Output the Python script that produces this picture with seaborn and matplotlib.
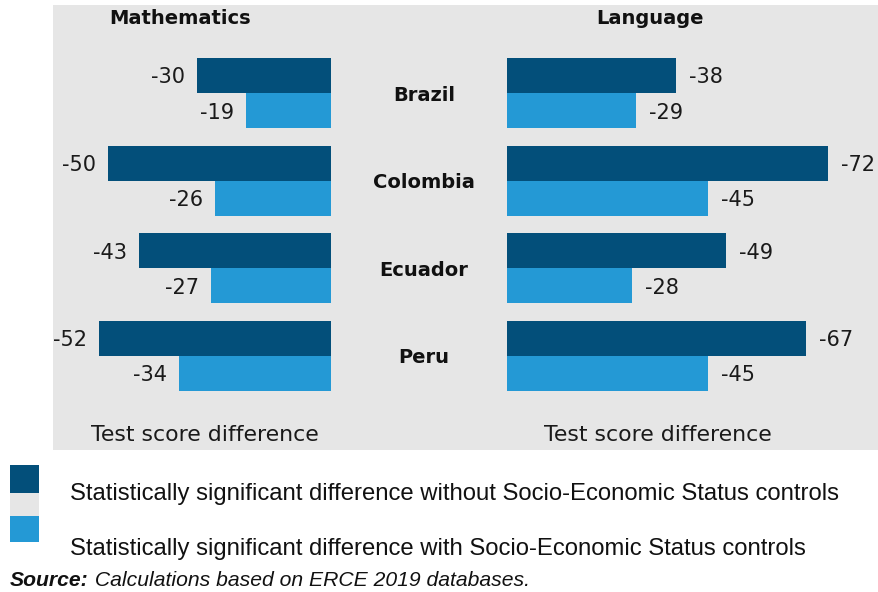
import matplotlib
matplotlib.use("Agg")
import matplotlib.pyplot as plt
import seaborn as sns
import pandas as pd
from matplotlib.patches import Rectangle

sns.set_theme(style="white")
plt.rcParams['font.family'] = ['DejaVu Sans']

countries = ["Brazil", "Colombia", "Ecuador", "Peru"]
series = ["Statistically significant difference without Socio-Economic Status controls",
          "Statistically significant difference with Socio-Economic Status controls"]
math_without = [-30, -50, -43, -52]
math_with = [-19, -26, -27, -34]
lang_without = [-38, -72, -49, -67]
lang_with = [-29, -45, -28, -45]
panel_titles = ["Mathematics", "Language"]
axis_label = "Test score difference"
source_bold = "Source:"
source_text = " Calculations based on ERCE 2019 databases."

DARK = "#034f7a"
LIGHT = "#2499d5"
GRAY = "#e6e6e6"

def long_df(without, withc):
    return pd.DataFrame({
        "country": countries * 2,
        "series": [series[0]] * 4 + [series[1]] * 4,
        "value": without + withc,
    })

W, H = 879, 592
fig = plt.figure(figsize=(W / 100, H / 100), dpi=100)

def fx(px):
    return px / W

def fy(py):
    return 1 - py / H

top_px, bot_px = 5, 450
fig.patches.append(Rectangle((fx(53), fy(bot_px)), fx(879) - fx(53), fy(top_px) - fy(bot_px),
                             transform=fig.transFigure, facecolor=GRAY, edgecolor="none", zorder=-5))

scale = 4.46  # px per unit
center0 = 93
step = 87.6
ylim = ((bot_px - center0) / step, -(center0 - top_px) / step)

axL = fig.add_axes([fx(53), fy(bot_px), fx(331) - fx(53), fy(top_px) - fy(bot_px)])
axR = fig.add_axes([fx(507), fy(bot_px), fx(879) - fx(507), fy(top_px) - fy(bot_px)])

pal = {series[0]: DARK, series[1]: LIGHT}
for ax, (wo, wi) in [(axL, (math_without, math_with)), (axR, (lang_without, lang_with))]:
    df = long_df(wo, wi)
    sns.barplot(data=df, x="value", y="country", hue="series", hue_order=series,
                order=countries, palette=pal, orient="h", ax=ax, width=0.8,
                legend=False, saturation=1, edgecolor="none")
    ax.set_facecolor("none")
    ax.patch.set_visible(False)
    for s in ax.spines.values():
        s.set_visible(False)
    ax.set_xticks([])
    ax.set_yticks([])
    ax.set_xlabel("")
    ax.set_ylabel("")
    ax.set_ylim(*ylim)

axL.set_xlim(-(331 - 53) / scale, 0)
axR.set_xlim(0, -(879 - 507) / scale)

VAL_FS = 15
for ax, side in [(axL, "left"), (axR, "right")]:
    for cont in ax.containers:
        for bar in cont:
            v = bar.get_width()
            yc = bar.get_y() + bar.get_height() / 2
            if side == "left":
                ax.annotate(f"{v:.0f}", (v, yc), xytext=(-12, -2), textcoords="offset pixels",
                            ha="right", va="center", fontsize=VAL_FS, color="#1a1a1a")
            else:
                ax.annotate(f"{v:.0f}", (v, yc), xytext=(13, -2), textcoords="offset pixels",
                            ha="left", va="center", fontsize=VAL_FS, color="#1a1a1a")

fig.text(fx(180), fy(18), panel_titles[0], ha="center", va="center", fontsize=14, fontweight="bold", color="#111111")
fig.text(fx(650), fy(18), panel_titles[1], ha="center", va="center", fontsize=14, fontweight="bold", color="#111111")

for i, c in enumerate(countries):
    fig.text(fx(424), fy(center0 + 2 + i * step), c, ha="center", va="center",
             fontsize=14, fontweight="bold", color="#111111")

fig.text(fx(205), fy(435), axis_label, ha="center", va="center", fontsize=15.8, color="#1a1a1a")
fig.text(fx(658), fy(435), axis_label, ha="center", va="center", fontsize=15.8, color="#1a1a1a")

fig.patches.append(Rectangle((fx(10), fy(493)), fx(29), fy(465) - fy(493), transform=fig.transFigure,
                             facecolor=DARK, edgecolor="none"))
fig.patches.append(Rectangle((fx(10), fy(516)), fx(29), fy(493) - fy(516), transform=fig.transFigure,
                             facecolor=GRAY, edgecolor="none"))
fig.patches.append(Rectangle((fx(10), fy(542)), fx(29), fy(516) - fy(542), transform=fig.transFigure,
                             facecolor=LIGHT, edgecolor="none"))
fig.text(fx(70), fy(494), series[0], ha="left", va="center", fontsize=17.2,
         family="Liberation Sans", color="#111111")
fig.text(fx(70), fy(549), series[1], ha="left", va="center", fontsize=17.2,
         family="Liberation Sans", color="#111111")

t1 = fig.text(fx(10), fy(580), source_bold, ha="left", va="center", fontsize=15.2,
              family="Liberation Sans", fontweight="bold", style="italic", color="#111111")
fig.canvas.draw()
bb = t1.get_window_extent()
fig.text(bb.x1 / W, fy(580), source_text, ha="left", va="center", fontsize=15.2,
         family="Liberation Sans", style="italic", color="#111111")

fig.savefig("out.png", dpi=100)
